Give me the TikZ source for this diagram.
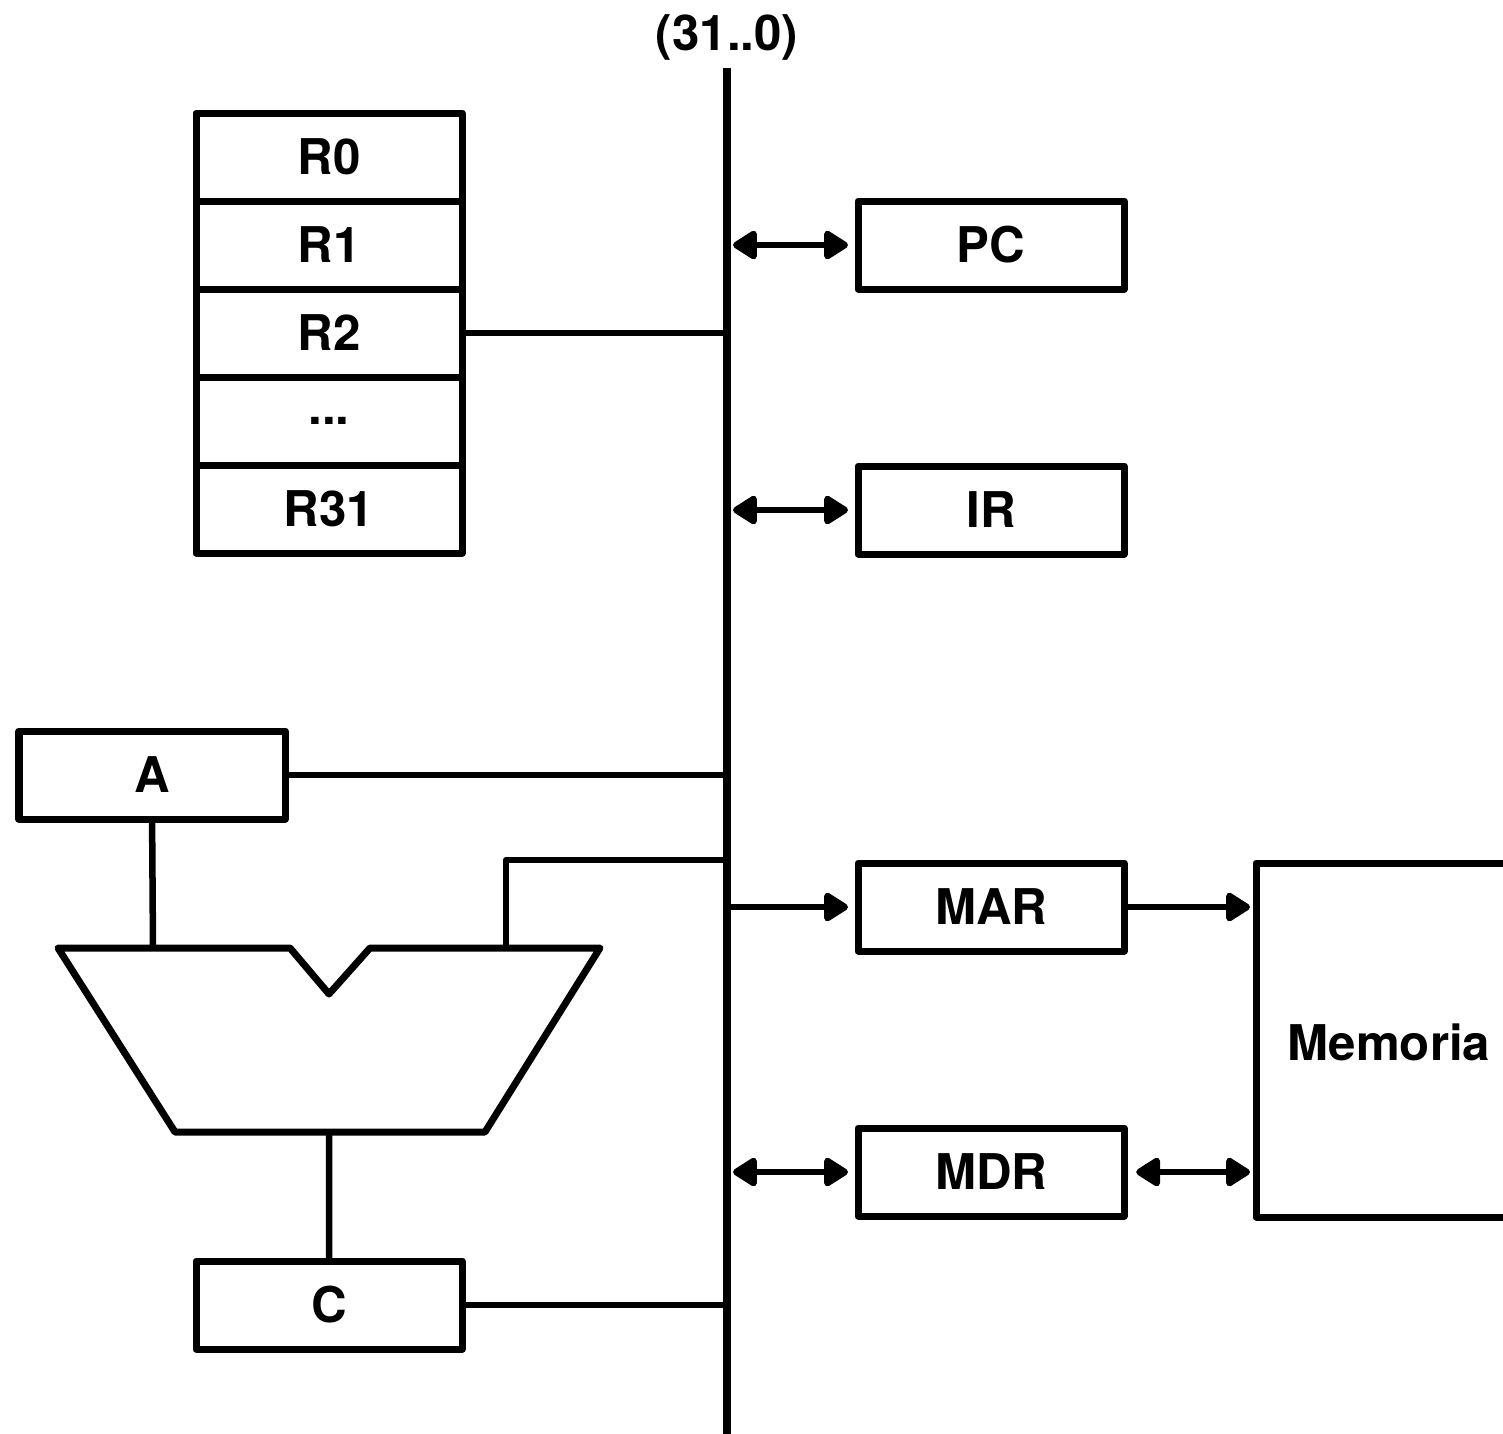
\documentclass[tikz,border=0pt]{standalone}
\usepackage{fontspec}
\setmainfont{TeX Gyre Heros}
\usetikzlibrary{arrows.meta}
\begin{document}
\begin{tikzpicture}[x=0.01cm,y=-0.01cm,
  line width=0.07cm, line join=round,
  reg/.style={draw, rectangle, minimum width=2.66cm, minimum height=0.88cm, inner sep=0pt, outer sep=0pt,
    font=\fontsize{14}{16}\selectfont\bfseries, anchor=north west},
  wire/.style={line width=0.065cm},
  tip/.style={-{Triangle[length=0.27cm,width=0.32cm,round]}},
  dtip/.style={{Triangle[length=0.27cm,width=0.32cm,round]}-{Triangle[length=0.27cm,width=0.32cm,round]}},
]
\useasboundingbox (0,0) rectangle (1503,1433);
\fill[white] (0,0) rectangle (1503,1433);

% bus
\coordinate (bustop) at (727,68);
\coordinate (busbot) at (727,1440);
\draw[line width=0.085cm] (bustop) -- (busbot);
\node[font=\fontsize{14}{16}\selectfont\bfseries] (buslabel) at (727,37) {(31..0)};

% register file
\node[reg] (r0) at (196,113) {R0};
\node[reg] (r1) at (196,201) {R1};
\node[reg] (r2) at (196,289) {R2};
\node[reg] (rd) at (196,377) {...};
\node[reg] (r31) at (196,465) {R31};

% right registers
\node[reg] (pc) at (858,201) {PC};
\node[reg] (ir) at (858,466) {IR};
\node[reg] (mar) at (858,863) {MAR};
\node[reg] (mdr) at (858,1128) {MDR};

% A and C
\node[reg] (A) at (19,731) {A};
\node[reg] (C) at (196,1261) {C};

% memory
\draw (1530,863) -- (1256,863) -- (1256,1217) -- (1530,1217);
\node[inner sep=0pt, font=\fontsize{14}{16}\selectfont\bfseries] (mem) at (1389,1042) {Memoria};
\coordinate (memL) at (1256,1000);

% ALU
\coordinate (aluA) at (153,948);
\coordinate (aluB) at (506,948);
\coordinate (aluOut) at (329,1132);
\draw (58,948) -- (290,948) -- (329,994) -- (370,948) -- (600,948) -- (485,1132) -- (175,1132) -- cycle;

% bus taps
\coordinate (bALU) at (727,860);

\draw[wire] (r2.east) -- (r2.east -| bustop);
\draw[wire] (A.east) -- (A.east -| bustop);
\draw[wire] (C.east) -- (C.east -| bustop);
\draw[wire] (A.south) -- (aluA);
\draw[wire] (bALU) -| (aluB);
\draw[wire] (aluOut) -- (C.north);

\draw[wire,dtip,shorten >=0.1cm] ([xshift=0.06cm]pc.west -| bustop) -- (pc.west);
\draw[wire,dtip,shorten >=0.1cm] ([xshift=0.06cm]ir.west -| bustop) -- (ir.west);
\draw[wire,tip,shorten >=0.1cm] ([xshift=0.03cm]mar.west -| bustop) -- (mar.west);
\draw[wire,dtip,shorten >=0.1cm] ([xshift=0.06cm]mdr.west -| bustop) -- (mdr.west);
\draw[wire,tip,shorten >=0.06cm] (mar.east) -- (mar.east -| memL);
\draw[wire,dtip,shorten <=0.12cm,shorten >=0.06cm] (mdr.east) -- (mdr.east -| memL);
\end{tikzpicture}
\end{document}
